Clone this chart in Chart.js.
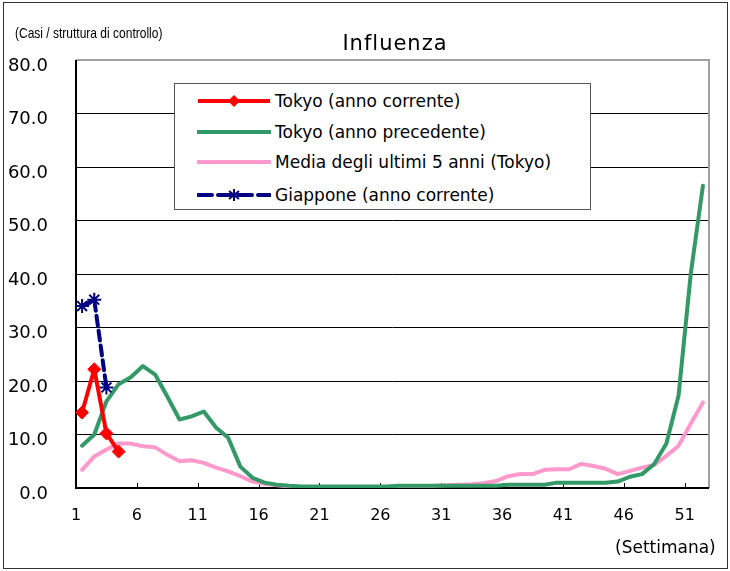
<!DOCTYPE html>
<html><head><meta charset="utf-8">
<script src="https://cdn.jsdelivr.net/npm/chart.js@4/dist/chart.umd.min.js"></script>
<style>
html,body{margin:0;padding:0;background:#fff;}
#wrap{position:relative;width:730px;height:571px;overflow:hidden;font-family:"DejaVu Sans",sans-serif;color:#000;background:#fff;}
#c{position:absolute;left:0;top:0;}
#frame{position:absolute;left:3px;top:2px;width:725px;height:567px;border:1px solid #333;box-sizing:border-box;pointer-events:none;}
#unit{position:absolute;left:15px;top:24px;font-family:"Liberation Sans Narrow","Liberation Sans",sans-serif;font-size:15px;line-height:18px;white-space:nowrap;transform:scaleX(0.8);transform-origin:0 0;}
#title{position:absolute;left:0;width:790px;top:31px;text-align:center;font-size:21px;line-height:24px;letter-spacing:1px;white-space:nowrap;}
#xunit{position:absolute;left:615px;top:537px;font-size:17px;line-height:20px;white-space:nowrap;}
#legend{position:absolute;left:174px;top:83px;width:417px;height:127px;border:1px solid #555;box-sizing:border-box;background:#fff;}
.row{position:absolute;left:0;height:22px;width:100%;}
.row svg{position:absolute;left:22px;top:0;}
.row span{position:absolute;left:100px;top:1px;font-size:17px;line-height:20px;white-space:nowrap;}
</style>
</head>
<body>
<div id="wrap">
<canvas id="c" width="730" height="571"></canvas>
<div id="unit"></div>
<div id="title"></div>
<div id="xunit"></div>
<div id="legend"></div>
<div id="frame"></div>
</div>
<script>
// ---- data ----
const chartTitle = "Influenza";
const yUnitLabel = "(Casi / struttura di controllo)";
const xUnitLabel = "(Settimana)";
const weeks = [1,2,3,4,5,6,7,8,9,10,11,12,13,14,15,16,17,18,19,20,21,22,23,24,25,26,
  27,28,29,30,31,32,33,34,35,36,37,38,39,40,41,42,43,44,45,46,47,48,49,50,51,52];
const xTickLabels = ["1","6","11","16","21","26","31","36","41","46","51"];
const seriesNames = ["Tokyo (anno corrente)","Tokyo (anno precedente)","Media degli ultimi 5 anni (Tokyo)","Giappone (anno corrente)"];
const tokyoCurrent = [14.1, 22.2, 10.2, 6.8];
const tokyoPrevious = [7.9, 10.0, 16.2, 19.4, 20.7, 22.8, 21.2, 17.1, 12.8, 13.4, 14.3, 11.3, 9.4, 4.0, 1.9, 1.0,
  0.6, 0.4, 0.3, 0.3, 0.3, 0.3, 0.3, 0.3, 0.3, 0.3, 0.4, 0.4, 0.4, 0.4, 0.4, 0.4, 0.4, 0.4, 0.4,
  0.6, 0.6, 0.6, 0.6, 1.0, 1.0, 1.0, 1.0, 1.0, 1.2, 2.1, 2.6, 4.5, 8.3, 17.3, 40.0, 56.5];
const fiveYearAvg = [3.4, 5.9, 7.2, 8.3, 8.3, 7.8, 7.6, 6.2, 5.0, 5.2, 4.7, 3.8, 3.1, 2.2, 1.2, 0.8,
  0.5, 0.3, 0.2, 0.2, 0.1, 0.1, 0.1, 0.1, 0.1, 0.1, 0.1, 0.2, 0.2, 0.4, 0.5, 0.6, 0.7, 0.9, 1.3,
  2.2, 2.6, 2.6, 3.4, 3.5, 3.5, 4.5, 4.1, 3.6, 2.6, 3.2, 3.8, 4.3, 6.0, 7.9, 12.0, 16.0];
const japanCurrent = [34.0, 35.2, 18.8];

const colors = ["#ff0000", "#339966", "#ff99cc", "#000080"];

// ---- text ----
document.getElementById('title').textContent = chartTitle;
document.getElementById('unit').textContent = yUnitLabel;
document.getElementById('xunit').textContent = xUnitLabel;

// ---- legend ----
const legendSvgs = [
  `<svg width="74" height="22"><line x1="1" y1="11" x2="73" y2="11" stroke="${colors[0]}" stroke-width="4"/><polygon points="37,5 43,11 37,17 31,11" fill="${colors[0]}"/></svg>`,
  `<svg width="74" height="22"><line x1="1" y1="11" x2="73" y2="11" stroke="${colors[1]}" stroke-width="4" stroke-linecap="round"/></svg>`,
  `<svg width="74" height="22"><line x1="1" y1="11" x2="73" y2="11" stroke="${colors[2]}" stroke-width="4" stroke-linecap="round"/></svg>`,
  `<svg width="74" height="22"><line x1="1" y1="11" x2="73" y2="11" stroke="${colors[3]}" stroke-width="4" stroke-dasharray="14,6" stroke-linecap="round"/><g stroke="${colors[3]}" stroke-width="2"><line x1="37" y1="5" x2="37" y2="17"/><line x1="32" y1="7" x2="42" y2="15"/><line x1="42" y1="7" x2="32" y2="15"/></g></svg>`
];
const legendTops = [6, 37, 67, 100];
const lg = document.getElementById('legend');
seriesNames.forEach((n, i) => {
  const r = document.createElement('div');
  r.className = 'row';
  r.style.top = legendTops[i] + 'px';
  r.innerHTML = legendSvgs[i] + '<span></span>';
  r.querySelector('span').textContent = n;
  lg.appendChild(r);
});

// ---- chart ----
const toXY = arr => arr.map((v, i) => ({x: weeks[i], y: v}));

const framePlugin = {
  id: 'framePlugin',
  beforeDatasetsDraw(chart) {
    const {ctx, chartArea: a, scales: {x}} = chart;
    ctx.save();
    ctx.strokeStyle = '#a0a0a0'; ctx.lineWidth = 2;
    ctx.beginPath(); ctx.moveTo(a.left, a.top); ctx.lineTo(a.right, a.top); ctx.lineTo(a.right, a.bottom); ctx.stroke();
    ctx.strokeStyle = '#000'; ctx.lineWidth = 2;
    ctx.beginPath(); ctx.moveTo(a.left, a.top); ctx.lineTo(a.left, a.bottom); ctx.lineTo(a.right, a.bottom); ctx.stroke();
    ctx.lineWidth = 1;
    x.ticks.forEach(t => {
      const px = Math.round(x.getPixelForValue(t.value)) + 0.5;
      ctx.beginPath(); ctx.moveTo(px, a.bottom); ctx.lineTo(px, a.bottom - 5); ctx.stroke();
    });
    ctx.restore();
  }
};

new Chart(document.getElementById('c'), {
  type: 'line',
  data: {
    datasets: [
      {label: seriesNames[0], data: toXY(tokyoCurrent), borderColor: colors[0], backgroundColor: colors[0],
       borderWidth: 4, pointStyle: 'rectRot', pointRadius: 6.5, pointBorderWidth: 1, order: 0},
      {label: seriesNames[1], data: toXY(tokyoPrevious), borderColor: colors[1], backgroundColor: colors[1],
       borderWidth: 4, pointRadius: 0, order: 2},
      {label: seriesNames[2], data: toXY(fiveYearAvg), borderColor: colors[2], backgroundColor: colors[2],
       borderWidth: 4, pointRadius: 0, order: 3},
      {label: seriesNames[3], data: toXY(japanCurrent), borderColor: colors[3], backgroundColor: colors[3],
       borderWidth: 4, borderDash: [10, 5], pointStyle: 'star', pointRadius: 7, pointBorderWidth: 2, order: 1}
    ]
  },
  options: {
    responsive: false,
    animation: false,
    devicePixelRatio: 1,
    layout: {padding: {top: 60, right: 21, bottom: 43, left: 0}},
    plugins: {legend: {display: false}, title: {display: false}, tooltip: {enabled: false}},
    elements: {line: {tension: 0, borderCapStyle: 'round', borderJoinStyle: 'round'}},
    scales: {
      x: {
        type: 'linear', min: 0.5, max: 52.5,
        afterBuildTicks: s => { s.ticks = xTickLabels.map(l => ({value: Number(l) - 0.5})); },
        afterFit: s => { s.height = 40; },
        grid: {display: false, drawTicks: false},
        border: {display: false},
        ticks: {autoSkip: false, maxRotation: 0, padding: 18, color: '#000',
          font: {family: 'DejaVu Sans', size: 16},
          callback: (v, i) => xTickLabels[i]}
      },
      y: {
        min: 0, max: 80,
        afterFit: s => { s.width = 76; },
        grid: {color: '#000', lineWidth: 1, drawTicks: false},
        border: {display: false},
        ticks: {stepSize: 10, padding: 28, labelOffset: 6, color: '#000',
          font: {family: 'DejaVu Sans', size: 18},
          callback: v => v.toFixed(1)}
      }
    }
  },
  plugins: [framePlugin]
});
</script>
</body></html>
